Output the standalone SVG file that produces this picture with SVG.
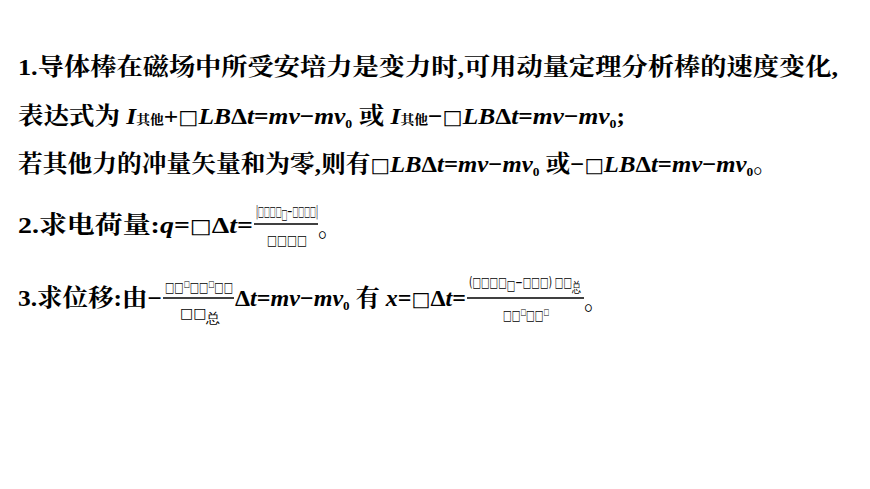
<svg xmlns="http://www.w3.org/2000/svg" width="870" height="489" viewBox="0 0 870 489">
<style>
.t{font-family:"Liberation Serif","Noto Serif CJK SC","Noto Sans CJK SC",serif;font-weight:bold;font-size:24px;fill:#000}
.i{font-style:italic}
.s{font-size:13px}
.b{font-family:"DejaVu Sans",sans-serif;font-size:20px;font-weight:normal}
.c{font-family:"DejaVu Sans",sans-serif;font-size:14px;font-weight:normal}
.f{stroke:#000;stroke-width:1.3}
</style>
<rect width="870" height="489" fill="#fff"/>
<g id="line1"><text class="t" x="18" y="75" textLength="820" lengthAdjust="spacingAndGlyphs">1.导体棒在磁场中所受安培力是变力时,可用动量定理分析棒的速度变化,</text></g>
<g id="line2"><text class="t" x="18" y="124" textLength="607" lengthAdjust="spacingAndGlyphs">表达式为 <tspan class="i">I</tspan><tspan class="s">其他</tspan>+<tspan class="b">□</tspan><tspan class="i">LB</tspan>Δ<tspan class="i">t</tspan>=<tspan class="i">mv</tspan>−<tspan class="i">mv</tspan><tspan class="s" dy="4">0</tspan><tspan dy="-4"> 或 </tspan><tspan class="i">I</tspan><tspan class="s">其他</tspan>−<tspan class="b">□</tspan><tspan class="i">LB</tspan>Δ<tspan class="i">t</tspan>=<tspan class="i">mv</tspan>−<tspan class="i">mv</tspan><tspan class="s" dy="4">0</tspan><tspan dy="-4">;</tspan></text></g>
<g id="line3"><text class="t" x="18" y="172" textLength="760" lengthAdjust="spacingAndGlyphs">若其他力的冲量矢量和为零,则有<tspan class="b">□</tspan><tspan class="i">LB</tspan>Δ<tspan class="i">t</tspan>=<tspan class="i">mv</tspan>−<tspan class="i">mv</tspan><tspan class="s" dy="4">0</tspan><tspan dy="-4"> 或−</tspan><tspan class="b">□</tspan><tspan class="i">LB</tspan>Δ<tspan class="i">t</tspan>=<tspan class="i">mv</tspan>−<tspan class="i">mv</tspan><tspan class="s" dy="4">0</tspan><tspan dy="-4">。</tspan></text></g>
<g id="line4">
<text class="t" x="18" y="233" textLength="235" lengthAdjust="spacingAndGlyphs">2.求电荷量:<tspan class="i">q</tspan>=<tspan class="b">□</tspan>Δ<tspan class="i">t</tspan>=</text>
<text class="t c" x="256" y="216" textLength="62" lengthAdjust="spacingAndGlyphs">|□□□□<tspan dy="3">□</tspan><tspan dy="-3">−□□□□|</tspan></text>
<line class="f" x1="254" y1="224" x2="318" y2="224"/>
<text class="t c" x="267" y="245" textLength="40" lengthAdjust="spacingAndGlyphs">□□□□</text>
<text class="t" x="318" y="236">。</text>
</g>
<g id="line5">
<text class="t" x="18" y="306" textLength="144" lengthAdjust="spacingAndGlyphs">3.求位移:由−</text>
<text class="t c" x="165" y="292" textLength="68" lengthAdjust="spacingAndGlyphs">□□<tspan dy="-5" font-size="9">□</tspan><tspan dy="5">□□</tspan><tspan dy="-5" font-size="9">□</tspan><tspan dy="5">□□</tspan></text>
<line class="f" x1="163" y1="298" x2="234" y2="298"/>
<text class="t c" x="180" y="318">□□<tspan dy="5">总</tspan></text>
<text class="t" x="235" y="306" textLength="231" lengthAdjust="spacingAndGlyphs">Δ<tspan class="i">t</tspan>=<tspan class="i">mv</tspan>−<tspan class="i">mv</tspan><tspan class="s" dy="4">0</tspan><tspan dy="-4"> 有 </tspan><tspan class="i">x</tspan>=<tspan class="b">□</tspan>Δ<tspan class="i">t</tspan>=</text>
<text class="t c" x="469" y="287" textLength="112" lengthAdjust="spacingAndGlyphs">(□□□□<tspan dy="3">□</tspan><tspan dy="-3">−□□□) □□</tspan><tspan dy="5">总</tspan></text>
<line class="f" x1="467" y1="298" x2="584" y2="298"/>
<text class="t c" x="503" y="320" textLength="46" lengthAdjust="spacingAndGlyphs">□□<tspan dy="-5" font-size="9">□</tspan><tspan dy="5">□□</tspan><tspan dy="-5" font-size="9">□</tspan></text>
<text class="t" x="584" y="309">。</text>
</g>
</svg>
